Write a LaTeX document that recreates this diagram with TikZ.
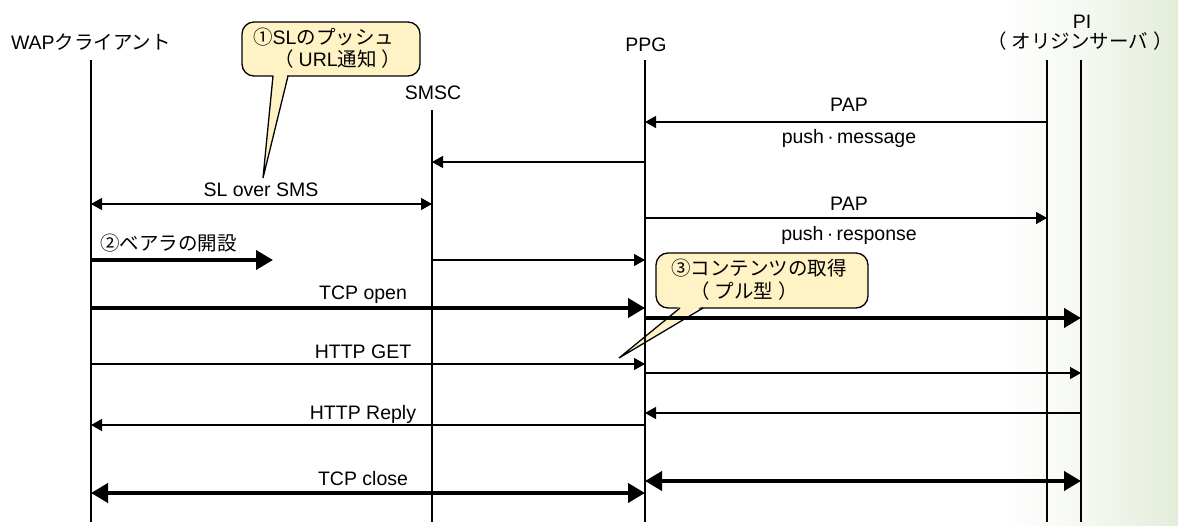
\documentclass[tikz,border=0pt]{standalone}
\usepackage{fontspec}
\setmainfont{Liberation Sans}
\newfontfamily\jafont{Noto Sans CJK JP}
\newcommand\ja[1]{{\jafont #1}}
% full-width brackets with a little air inside
\newcommand\opar{\ja{（}\kern5bp}
\newcommand\cpar{\kern5bp\ja{）}}
\usetikzlibrary{arrows.meta}
\definecolor{notefill}{RGB}{255,243,198}
\definecolor{fademid}{RGB}{244,248,240}
\definecolor{fadeend}{RGB}{227,237,217}
\begin{document}
\begin{tikzpicture}[x=1bp,y=-1bp,
  font=\fontsize{19.5bp}{23bp}\selectfont,
  lbl/.style={anchor=base,inner sep=0pt},
  lblw/.style={anchor=base west,inner sep=0pt},
  life/.style={line width=1.3bp},
  thinmsg/.style={line width=1.3bp,-{Triangle[length=11bp,width=12bp]}},
  thinboth/.style={line width=1.3bp,{Triangle[length=11bp,width=12bp]}-{Triangle[length=11bp,width=12bp]}},
  thickmsg/.style={line width=4bp,-{Triangle[length=17bp,width=19bp]}},
  thickboth/.style={line width=4bp,{Triangle[length=17bp,width=19bp]}-{Triangle[length=17bp,width=19bp]}},
  notebox/.style={draw,line width=1.3bp,fill=notefill,rounded corners=12bp,inner sep=0pt},
  pointer/.style={line width=1.3bp,line join=miter},
]
\useasboundingbox (0,0) rectangle (1178,526);
% background with a soft green fade on the right
\fill[white] (0,0) rectangle (1178,526);
\shade[left color=white,right color=fademid] (1000,0) rectangle (1091,526);
\shade[left color=fademid,right color=fadeend] (1090,0) rectangle (1178,526);

% callout 1: SL push
\node[notebox,minimum width=178bp,minimum height=54bp] (note1) at (331,49) {};
\coordinate (tip1) at (263,178);
\fill[notefill] (273.5,74) -- (tip1) -- (287.5,74) -- cycle;
\draw[pointer] (273,76) -- (tip1) -- (288,76);
\node[lblw] (note1a) at (253,45) {\ja{①}SL\ja{のプッシュ}};
\node[lblw] (note1b) at (274,67) {\opar URL\ja{通知}\cpar};

% callout 3: content retrieval
\node[notebox,minimum width=212bp,minimum height=55bp] (note3) at (762,280.5) {};
\coordinate (tip3) at (619,358);
\fill[notefill] (680.5,306) -- (tip3) -- (702.5,306) -- cycle;
\draw[pointer] (680,308) -- (tip3) -- (703,308);
\node[lblw] (note3a) at (671,276) {\ja{③コンテンツの取得}};
\node[lblw] (note3b) at (690,299) {\opar\ja{プル型}\cpar};

% participants
\node[lbl] (wap) at (91,50) {WAP\ja{クライアント}};
\node[lbl] (smsc) at (433,100) {SMSC};
\node[lbl] (ppg) at (646,52) {PPG};
\node[lbl] (pi) at (1082,29) {PI};
\node[lbl] (pisub) at (1080,49) {\opar\ja{オリジンサーバ}\cpar};

% lifelines
\coordinate (lw) at (91,60);
\coordinate (ls) at (432,110);
\coordinate (lp) at (645,60);
\coordinate (lq) at (1047,60);
\coordinate (lr) at (1081,60);
\foreach \c in {lw,ls,lp,lq,lr} {
  \draw[life] (\c) -- (\c |- 0,522);
}

% PAP push message
\draw[thinmsg] (lq |- 0,122) -- (lp |- 0,122);
\node[lbl] (pap1) at (849,112) {PAP};
\node[lbl] (pushmsg) at (849,144) {push\,·\,message};
\draw[thinmsg] (lp |- 0,162) -- (ls |- 0,162);

% SL over SMS
\draw[thinboth] (lw |- 0,204) -- (ls |- 0,204);
\node[lbl] (slsms) at (261,197) {SL over SMS};

% PAP push response
\draw[thinmsg] (lp |- 0,218) -- (lq |- 0,218);
\node[lbl] (pap2) at (849,211) {PAP};
\node[lbl] (pushresp) at (849,241) {push\,·\,response};

% bearer setup
\coordinate (bearer) at (273,260);
\draw[thickmsg] (lw |- 0,260) -- (bearer);
\node[lblw] (bearerlbl) at (100,251) {\ja{②ベアラの開設}};
\draw[thinmsg] (ls |- 0,260) -- (lp |- 0,260);

% TCP open
\draw[thickmsg] (lw |- 0,308) -- (lp |- 0,308);
\node[lbl] (tcpopen) at (363,300) {TCP open};
\draw[thickmsg] (lp |- 0,318) -- (lr |- 0,318);

% HTTP GET
\draw[thinmsg] (lw |- 0,364) -- (lp |- 0,364);
\node[lbl] (httpget) at (363,359) {HTTP GET};
\draw[thinmsg] (lp |- 0,373) -- (lr |- 0,373);

% HTTP Reply
\draw[thinmsg] (lr |- 0,413) -- (lp |- 0,413);
\draw[thinmsg] (lp |- 0,425) -- (lw |- 0,425);
\node[lbl] (httpreply) at (363,419) {HTTP Reply};

% TCP close
\draw[thickboth] (lp |- 0,481) -- (lr |- 0,481);
\draw[thickboth] (lw |- 0,493) -- (lp |- 0,493);
\node[lbl] (tcpclose) at (363,485) {TCP close};
\end{tikzpicture}
\end{document}
